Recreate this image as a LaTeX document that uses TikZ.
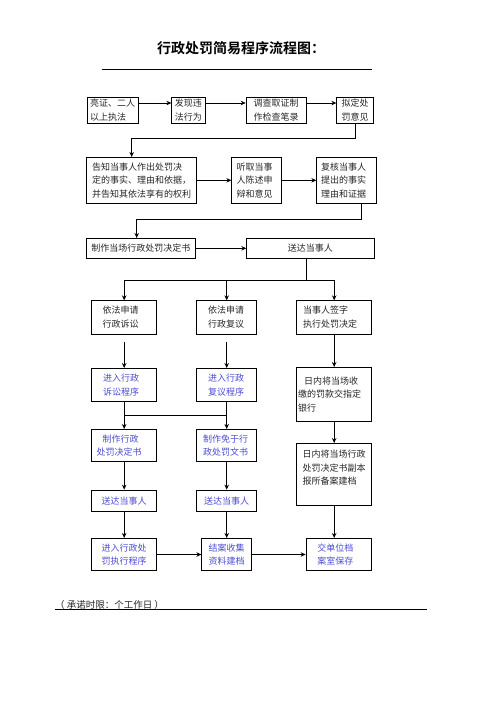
\documentclass[tikz,border=0pt]{standalone}
\usepackage{fontspec}
\newfontfamily\cjk{Noto Sans CJK SC}[BoldFont={Noto Sans CJK SC Bold}]
\usetikzlibrary{arrows.meta,calc}

\newlength{\du}
\setlength{\du}{1\unitlength}

\definecolor{procblue}{rgb}{0.30,0.30,0.82}
\definecolor{boxtext}{rgb}{0.15,0.15,0.15}

\tikzset{
  box/.style={draw, line width=0.6pt, inner sep=0pt, align=left, text=boxtext,
    font=\cjk\fontsize{9}{13.5}\selectfont},
  cbox/.style={box, align=center},
  blue/.style={text=procblue},
  flow/.style={line width=0.9pt, -{Stealth[length=5pt,width=4.5pt]}},
  link/.style={line width=0.9pt},
}

\begin{document}
\begin{tikzpicture}[x=\du, y=-\du]
\useasboundingbox (0,0) rectangle (496,702);

% title
\node[font=\cjk\bfseries\fontsize{14}{16}\selectfont] (title) at (241,48) {行政处罚简易程序流程图：};
\draw[line width=0.7pt] (101.7,69.3) -- (371.7,69.3);

% row 1
\node[box, minimum width=51\du, minimum height=26\du, text width=45\du] (liangzheng) at (112.5,110) {亮证、二人\\以上执法};
\node[cbox, minimum width=33.3\du, minimum height=26\du] (faxian) at (188.3,110) {发现违\\法行为};
\node[cbox, minimum width=60\du, minimum height=26\du] (diaocha) at (276,110) {调查取证制\\作检查笔录};
\node[cbox, minimum width=36.7\du, minimum height=26\du] (niding) at (355,110) {拟定处\\罚意见};

% row 2
\node[box, minimum width=110\du, minimum height=46\du, text width=99\du] (gaozhi) at (141.7,180.3) {告知当事人作出处罚决\\定的事实、理由和依据，\\并告知其依法享有的权利};
\node[box, minimum width=50\du, minimum height=46\du, text width=40\du] (tingqu) at (256.7,180.3) {听取当事\\人陈述申\\辩和意见};
\node[box, minimum width=60\du, minimum height=46\du, text width=51\du] (fuhe) at (346.7,180.3) {复核当事人\\提出的事实\\理由和证据};

% row 3
\node[cbox, minimum width=108.3\du, minimum height=20\du] (zhizuo) at (140.8,248.3) {制作当场行政处罚决定书};
\node[cbox, minimum width=127.3\du, minimum height=20\du] (songda) at (310.3,248.3) {送达当事人};

% row 4
\node[box, minimum width=65\du, minimum height=33.3\du, text width=43\du] (susong) at (124.2,317.3) {依法申请\\行政诉讼};
\node[box, minimum width=60\du, minimum height=33.3\du, text width=37\du] (fuyi) at (226.7,317.3) {依法申请\\行政复议};
\node[box, minimum width=75\du, minimum height=33.3\du, text width=62\du] (qianzi) at (334.2,317.3) {当事人签字\\执行处罚决定};

% row 5
\node[box, blue, minimum width=65\du, minimum height=33.3\du, text width=42\du] (jinsusong) at (124.2,385) {进入行政\\诉讼程序};
\node[box, blue, minimum width=60\du, minimum height=33.3\du, text width=37\du] (jinfuyi) at (226.7,385) {进入行政\\复议程序};
\node[box, minimum width=75\du, minimum height=54.4\du, text width=72\du] (jiaokuan) at (334.2,394.5) {\hspace*{6pt}日内将当场收\\缴的罚款交指定\\银行};

% row 6
\node[box, blue, minimum width=65\du, minimum height=32.4\du, text width=55\du] (zhijueding) at (124.2,445.5) {\hspace*{6pt}制作行政\\处罚决定书};
\node[box, blue, minimum width=60\du, minimum height=32.4\du, text width=47\du] (zhimian) at (226.7,445.5) {制作免于行\\政处罚文书};
\node[box, minimum width=75\du, minimum height=61.7\du, text width=63\du] (beian) at (334.2,474.2) {日内将当场行政\\处罚决定书副本\\报所备案建档\\~};

% row 7
\node[cbox, blue, minimum width=65\du, minimum height=21.7\du] (songda1) at (124.2,500.8) {送达当事人};
\node[cbox, blue, minimum width=60\du, minimum height=21.7\du] (songda2) at (226.7,500.8) {送达当事人};

% row 8
\node[cbox, blue, minimum width=65\du, minimum height=32.4\du] (zhixing) at (124.2,554.5) {进入行政处\\罚执行程序};
\node[cbox, blue, minimum width=50\du, minimum height=32.4\du] (jiean) at (226.7,554.5) {结案收集\\资料建档};
\node[box, blue, minimum width=65.7\du, minimum height=32.4\du, text width=43\du] (guidang) at (338.8,554.5) {交单位档\\案室保存};

% connectors
\coordinate (r1) at (0,103);
\draw[flow] (liangzheng.east |- r1) -- (faxian.west |- r1);
\draw[flow] (faxian.east |- r1) -- (diaocha.west |- r1);
\draw[flow] (diaocha.east |- r1) -- (niding.west |- r1);

\coordinate (k1) at (131.7,138.3);
\draw[flow] (niding.south) |- (k1) -- (k1 |- gaozhi.north);
\draw[flow] (gaozhi) -- (tingqu);
\draw[flow] (tingqu) -- (fuhe);

\coordinate (k2) at (361.7,219.3);
\coordinate (k3) at (136.7,219.3);
\draw[flow] (k2 |- fuhe.south) -- (k2) -- (k3) -- (k3 |- zhizuo.north);
\draw[flow] (zhizuo) -- (songda);

\coordinate (k4) at (306.7,280.7);
\draw[link] (k4 |- songda.south) -- (k4);
\draw[flow] (k4) -| (susong.north);
\draw[flow] (k4) -| (fuyi.north);
\draw[flow] (k4) -| (qianzi.north);

\draw[flow] ($(susong.south)+(0,7.7)$) -- (jinsusong.north);
\draw[flow] ($(fuyi.south)+(0,7.7)$) -- (jinfuyi.north);
\draw[flow] (qianzi) -- (jiaokuan);

\coordinate (j1) at (0,415);
\draw[link] (jinsusong.south |- j1) -- (jinfuyi.south |- j1);
\draw[flow] (jinsusong) -- (zhijueding);
\draw[flow] (jinfuyi) -- (zhimian);
\draw[flow] (jiaokuan) -- (beian);

\draw[flow] (zhijueding) -- (songda1);
\draw[flow] (zhimian) -- (songda2);
\draw[flow] (songda1) -- (zhixing);
\draw[flow] (songda2) -- (jiean);
\draw[flow] (beian.south) -- (beian.south |- guidang.north);
\draw[flow] (zhixing) -- (jiean);
\draw[flow] (jiean) -- (guidang);

% time limit
\node[anchor=west, inner sep=0pt, text=boxtext, font=\cjk\fontsize{9.5}{11}\selectfont] (shixian) at (55,605) {（ 承诺时限：个工作日 ）};
\draw[line width=0.7pt] (55,609.3) -- (426.7,609.3);
\end{tikzpicture}
\end{document}
